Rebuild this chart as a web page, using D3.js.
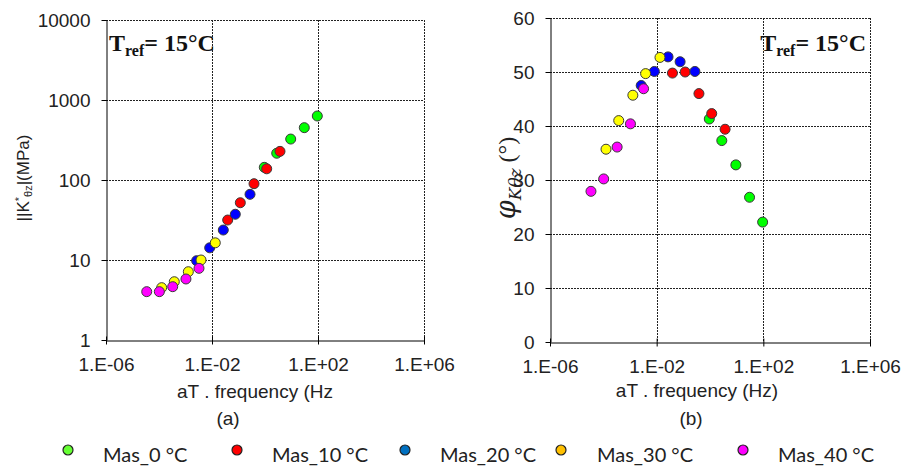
<!DOCTYPE html>
<html><head><meta charset="utf-8">
<script src="https://cdn.jsdelivr.net/npm/d3@7"></script>
<style>
html,body{margin:0;padding:0;background:#fff;}
svg{display:block;}
</style>
</head><body>
<svg id="c" width="904" height="468"></svg>
<script>
// ---------- data ----------
const seriesNames = ["Mas_0 °C","Mas_10 °C","Mas_20 °C","Mas_30 °C","Mas_40 °C"];
const markerColors = ["#00ff00","#ff0000","#0000ff","#ffff00","#ff00ff"];
const legendColors = ["#66ff33","#ff0000","#0070c0","#ffc000","#ff00ff"];

// reduced frequency (Hz)
const freq0  = [0.94, 2.77, 9.33, 30.4, 94.2];
const freq10 = [0.0391, 0.117, 0.385, 1.16, 3.68];
const freq20 = [0.00263, 0.00818, 0.0267, 0.0757, 0.272];
const freq30 = [0.000126, 0.000378, 0.00128, 0.00385, 0.0133];
const freq40 = [0.0000344, 0.000103, 0.000329, 0.00104, 0.00323];

// |K*θz| (MPa)
const mod0  = [144, 216, 325, 451, 631];
const mod10 = [31.6, 52.0, 89.9, 138, 228];
const mod20 = [9.8, 14.2, 23.7, 37.3, 66.2];
const mod30 = [4.51, 5.35, 7.14, 10.0, 16.4];
const mod40 = [4.02, 4.02, 4.64, 5.79, 7.87];

// phase angle (°)
const phi0  = [41.3, 37.3, 32.8, 26.8, 22.2];
const phi10 = [49.8, 50.0, 46.0, 42.3, 39.4];
const phi20 = [47.5, 50.1, 52.8, 51.9, 50.1];
const phi30 = [35.7, 41.0, 45.7, 49.7, 52.7];
const phi40 = [27.9, 30.2, 36.1, 40.4, 46.9];

const xTickVals = [1e-6, 1e-2, 1e2, 1e6];
const xTickLabels = ["1.E-06","1.E-02","1.E+02","1.E+06"];
const yTickValsA = [1, 10, 100, 1000, 10000];
const yTickLabelsA = ["1","10","100","1000","10000"];
const yTickValsB = [0, 10, 20, 30, 40, 50, 60];

const freqs = [freq0, freq10, freq20, freq30, freq40];
const mods = [mod0, mod10, mod20, mod30, mod40];
const phis = [phi0, phi10, phi20, phi30, phi40];

// ---------- drawing ----------
const svg = d3.select("#c");
const sans = "'Liberation Sans', Arial, sans-serif";

function panel(opts) {
  const {x0, x1, y0, y1, yScaleType, yDomain, yTicks, yLabels, yVals} = opts;
  const x = d3.scaleLog().domain([1e-6, 1e6]).range([x0, x1]);
  const y = (yScaleType === "log" ? d3.scaleLog() : d3.scaleLinear()).domain(yDomain).range([y1, y0]);
  const g = svg.append("g");

  // grid
  const grid = g.append("g").attr("stroke", "#222").attr("stroke-width", 1).attr("stroke-dasharray", "2,1");
  grid.selectAll("line.vx").data(xTickVals.slice(1)).join("line")
    .attr("x1", d => Math.round(x(d)) + 0.5).attr("x2", d => Math.round(x(d)) + 0.5)
    .attr("y1", y0).attr("y2", y1);
  grid.selectAll("line.hy").data(yTicks.slice(1)).join("line")
    .attr("y1", d => Math.round(y(d)) + 0.5).attr("y2", d => Math.round(y(d)) + 0.5)
    .attr("x1", x0).attr("x2", x1);

  // axes (Excel-like)
  const xAxis = d3.axisBottom(x).tickValues(xTickVals).tickFormat((d, i) => xTickLabels[i]).tickSize(4).tickSizeOuter(0).tickPadding(13);
  const xa = g.append("g").attr("transform", `translate(0,${Math.round(y1) + 0.5})`).call(xAxis);
  xa.select(".domain").attr("stroke", "#000");
  xa.selectAll(".tick line").attr("stroke", "#000").attr("y1", -4).attr("y2", 4);
  xa.selectAll(".tick text").attr("font-family", sans).attr("font-size", 19).attr("fill", "#222");

  const yAxis = d3.axisLeft(y).tickValues(yTicks).tickFormat((d, i) => yLabels[i]).tickSize(5).tickSizeOuter(0).tickPadding(11);
  const ya = g.append("g").attr("transform", `translate(${Math.round(x0) + 0.5},0)`).call(yAxis);
  ya.select(".domain").attr("stroke", "#000");
  ya.selectAll(".tick line").attr("stroke", "#000");
  ya.selectAll(".tick text").attr("font-family", sans).attr("font-size", 19).attr("fill", "#222");

  // points
  for (let s = 0; s < 5; s++) {
    const pts = freqs[s].map((f, i) => ({f, v: yVals[s][i]}));
    g.append("g").selectAll("circle").data(pts).join("circle")
      .attr("cx", d => x(d.f)).attr("cy", d => y(d.v)).attr("r", 5)
      .attr("fill", markerColors[s]).attr("stroke", "#3a3a3a").attr("stroke-width", 1);
  }
  return {x, y, g};
}

const A = panel({x0: 106, x1: 424, y0: 20, y1: 340, yScaleType: "log", yDomain: [1, 10000],
  yTicks: yTickValsA, yLabels: yTickLabelsA, yVals: mods});
const B = panel({x0: 550, x1: 870, y0: 18, y1: 342, yScaleType: "lin", yDomain: [0, 60],
  yTicks: yTickValsB, yLabels: yTickValsB.map(String), yVals: phis});

// axis titles
svg.append("text").attr("x", 255).attr("y", 398).attr("text-anchor", "middle")
  .attr("font-family", sans).attr("font-size", 19).attr("fill", "#222").text("aT . frequency (Hz");
svg.append("text").attr("x", 228).attr("y", 425).attr("text-anchor", "middle")
  .attr("font-family", sans).attr("font-size", 19).attr("fill", "#222").text("(a)");
svg.append("text").attr("x", 697).attr("y", 397).attr("text-anchor", "middle")
  .attr("font-family", sans).attr("font-size", 19).attr("fill", "#222").text("aT . frequency (Hz)");
svg.append("text").attr("x", 691).attr("y", 425).attr("text-anchor", "middle")
  .attr("font-family", sans).attr("font-size", 19).attr("fill", "#222").text("(b)");

// left y title
const ylA = svg.append("text").attr("transform", "translate(29,178) rotate(-90)").attr("text-anchor", "middle")
  .attr("font-family", sans).attr("font-size", 17).attr("fill", "#222");
ylA.append("tspan").text("||K");
ylA.append("tspan").attr("font-size", 11).attr("dy", -6).text("*");
ylA.append("tspan").attr("font-size", 11).attr("dy", 9).text("θz");
ylA.append("tspan").attr("dy", -3).text("|(MPa)");

// right y title
const ylB = svg.append("text").attr("transform", "translate(515,178) rotate(-90)").attr("text-anchor", "middle")
  .attr("font-family", "'DejaVu Serif', 'Liberation Serif', serif").attr("fill", "#222");
ylB.append("tspan").attr("font-style", "italic").attr("font-size", 27).text("φ");
ylB.append("tspan").attr("font-style", "italic").attr("font-size", 17).attr("dy", 6).text("Kθz");
ylB.append("tspan").attr("font-size", 24).attr("dy", -6).attr("font-family", "'Liberation Serif', serif").text(" (°)");

// Tref annotations
function tref(xp, yp, anchor) {
  const t = svg.append("text").attr("x", xp).attr("y", yp).attr("text-anchor", anchor)
    .attr("font-family", "'Liberation Serif', 'Times New Roman', serif").attr("font-weight", "bold")
    .attr("font-size", 24).attr("fill", "#111");
  t.append("tspan").text("T");
  t.append("tspan").attr("font-size", 16).attr("dy", 5).text("ref");
  t.append("tspan").attr("dy", -5).text("= 15°C");
}
tref(109, 51, "start");
tref(866, 51, "end");

// legend
const legX = [68, 237, 405, 561, 743];
const legTX = [103, 272, 440, 597, 778];
seriesNames.forEach((n, i) => {
  svg.append("circle").attr("cx", legX[i]).attr("cy", 450).attr("r", 5)
    .attr("fill", legendColors[i]).attr("stroke", "#222").attr("stroke-width", 1.2);
  svg.append("text").attr("x", legTX[i]).attr("y", 462).attr("font-family", "Lato, 'Open Sans', sans-serif")
    .attr("font-size", 20).attr("fill", "#222").text(n);
});
</script>
</body></html>
